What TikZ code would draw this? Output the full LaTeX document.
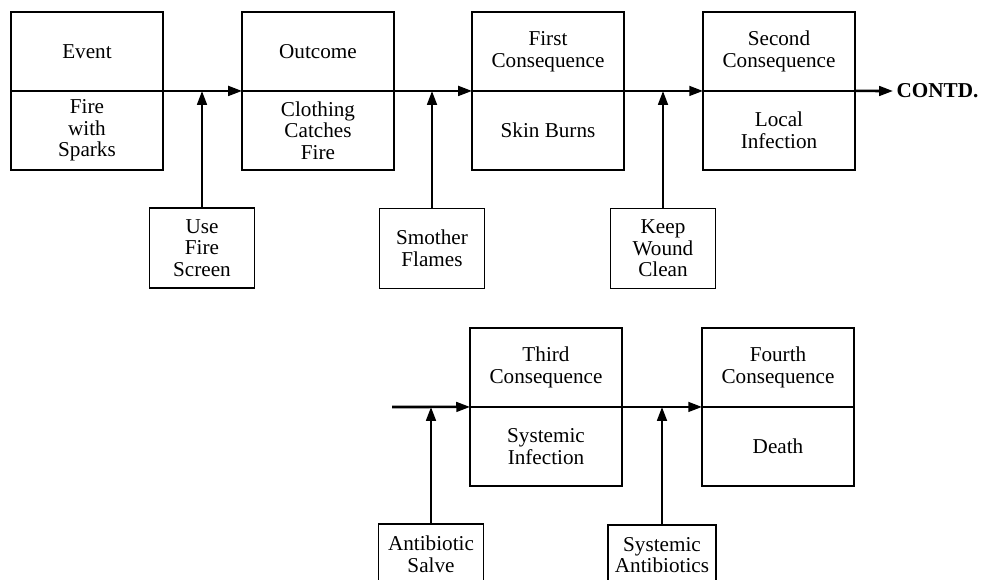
\documentclass[tikz,border=0pt]{standalone}
\usepackage{fontspec}
\setmainfont{Liberation Serif}
\usetikzlibrary{arrows.meta, positioning}

\begin{document}
\begin{tikzpicture}[
        x=0.0166cm, y=-0.0166cm,
        font=\fontsize{10}{10.2}\selectfont,
        cell/.style={rectangle, draw, line width=0.6pt, outer sep=0pt, align=center, minimum width=2.52cm, minimum height=1.31cm},
        guard/.style={rectangle, draw, line width=0.6pt, outer sep=0pt, align=center, minimum width=1.75cm, minimum height=1.33cm},
        flow/.style={-{Triangle[length=2.3mm, width=1.6mm]}, line width=1.2pt}
    ]
        \clip (0,0) rectangle (982,580);

        % Top chain
        \node[cell] (event) at (87,51.5) {Event};
        \node[cell, below=0pt of event] (fire) {Fire\\with\\Sparks};
        \node[cell] (outcome) at (318,51.5) {Outcome};
        \node[cell, below=0pt of outcome] (clothing) {Clothing\\Catches\\Fire};
        \node[cell] (first) at (548,51.5) {First\\Consequence};
        \node[cell, below=0pt of first] (burns) {Skin Burns};
        \node[cell] (second) at (779,51.5) {Second\\Consequence};
        \node[cell, below=0pt of second] (local) {Local\\Infection};
        \node[font=\bfseries, anchor=west, inner sep=1.5pt] (contd) at (893,91) {CONTD.};

        % Barriers of the top chain
        \node[guard] (screen) at (202,248) {Use\\Fire\\Screen};
        \node[guard] (smother) at (432,248.5) {Smother\\Flames};
        \node[guard] (wound) at (663,248.5) {Keep\\Wound\\Clean};

        % Bottom chain
        \coordinate (cont) at (392,407);
        \node[cell] (third) at (546,367.5) {Third\\Consequence};
        \node[cell, below=0pt of third] (systemic) {Systemic\\Infection};
        \node[cell] (fourth) at (778,367.5) {Fourth\\Consequence};
        \node[cell, below=0pt of fourth] (death) {Death};

        % Barriers of the bottom chain
        \node[guard, minimum height=1cm] (salve) at (431,554) {Antibiotic\\Salve};
        \node[guard, minimum height=1cm] (antibiotics) at (662,555) {Systemic\\Antibiotics};

        % Sequence arrows
        \draw[flow] (fire.north east) -- (clothing.north west);
        \draw[flow] (clothing.north east) -- (burns.north west);
        \draw[flow] (burns.north east) -- (local.north west);
        \draw[flow] (local.north east) -- (contd.west);
        \draw[flow] (cont) -- (systemic.north west);
        \draw[flow] (systemic.north east) -- (death.north west);

        % Barrier arrows
        \draw[flow] (screen.north) -- (screen.north |- fire.north);
        \draw[flow] (smother.north) -- (smother.north |- fire.north);
        \draw[flow] (wound.north) -- (wound.north |- fire.north);
        \draw[flow] (salve.north) -- (salve.north |- systemic.north);
        \draw[flow] (antibiotics.north) -- (antibiotics.north |- systemic.north);

    \end{tikzpicture}
\end{document}
